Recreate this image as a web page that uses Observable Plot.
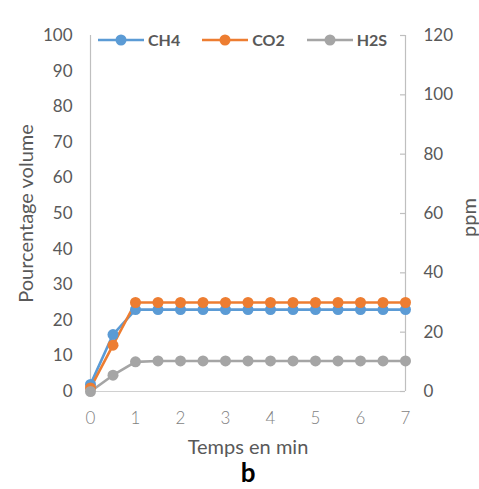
<!DOCTYPE html>
<html><head><meta charset="utf-8">
<script src="https://cdn.jsdelivr.net/npm/d3@7"></script>
<script src="https://cdn.jsdelivr.net/npm/@observablehq/plot@0.6"></script>
<style>
body{margin:0;background:#fff;font-family:Lato,"Open Sans",sans-serif;}
#wrap{position:relative;width:479px;height:489px;}
#legend{position:absolute;left:98px;top:30px;display:flex;gap:22px;font-size:16px;color:#595959;font-weight:bold;}
#legend .it{display:flex;align-items:center;gap:4px;}
</style></head>
<body><div id="wrap"><div id="legend"></div></div>
<script>
const times = [0,0.5,1,1.5,2,2.5,3,3.5,4,4.5,5,5.5,6,6.5,7];
const ch4 = [2,16,23,23,23,23,23,23,23,23,23,23,23,23,23];
const co2 = [1,13,25,25,25,25,25,25,25,25,25,25,25,25,25];
const h2sPpm = [0,5.5,10,10.3,10.3,10.3,10.3,10.3,10.3,10.3,10.3,10.3,10.3,10.3,10.3];
const seriesNames = ["CH4","CO2","H2S"];
const seriesColors = ["#5b9bd5","#ed7d31","#a5a5a5"];
const leftTicks = [0,10,20,30,40,50,60,70,80,90,100];
const rightTicks = [0,20,40,60,80,100,120];
const xTicks = [0,1,2,3,4,5,6,7];
const ratio = 1.2; // ppm per % on secondary axis

const rows = [];
times.forEach((t,i)=>{
  rows.push({t, v: ch4[i], s: "CH4"});
  rows.push({t, v: co2[i], s: "CO2"});
  rows.push({t, v: h2sPpm[i]/ratio, s: "H2S"});
});

const plot = Plot.plot({
  width: 479, height: 489,
  marginLeft: 90, marginRight: 74, marginTop: 35, marginBottom: 98,
  style: {fontFamily: "Lato, 'Open Sans', sans-serif", background: "#fff"},
  x: {type: "linear", domain: [0,7]},
  y: {type: "linear", domain: [0,100]},
  color: {domain: seriesNames, range: seriesColors},
  marks: [
    Plot.ruleX([0], {stroke: "#bfbfbf", strokeWidth: 1.2}),
    Plot.ruleX([7], {stroke: "#bfbfbf", strokeWidth: 1.2}),
    Plot.ruleY([0], {x1: 0, x2: 7, stroke: "#d0d0d0", strokeWidth: 1.2}),
    Plot.axisY(leftTicks, {anchor: "left", tickSize: 0, tickPadding: 18, fontSize: 17, fill: "#595959", label: null}),
    Plot.axisY(rightTicks.map(v=>v/ratio), {anchor: "right", tickSize: 0, tickPadding: 18, fontSize: 17, fill: "#595959", label: null, tickFormat: d => Math.round(d*ratio)}),
    Plot.ruleY(rightTicks.map(v=>v/ratio), {x1: 7, x2: 7, insetLeft: -5, stroke: "#bfbfbf", strokeWidth: 1.2}),
    Plot.axisX(xTicks, {anchor: "bottom", tickSize: 0, tickPadding: 20, fontSize: 17, fill: "#7f7f7f", fontWeight: 300, label: null}),
    Plot.line(rows, {x: "t", y: "v", stroke: "s", z: "s", strokeWidth: 2.6}),
    Plot.dot(rows, {x: "t", y: "v", fill: "s", r: 5.5}),
    Plot.text(["Pourcentage volume"], {frameAnchor: "left", textAnchor: "middle", dx: -64, rotate: -90, fontSize: 20, fill: "#595959"}),
    Plot.text(["ppm"], {frameAnchor: "right", textAnchor: "middle", dx: 64, dy: 4, rotate: -90, fontSize: 20, fill: "#595959"}),
    Plot.text(["Temps en min"], {frameAnchor: "bottom", lineAnchor: "bottom", dy: 62, fontSize: 20, fill: "#595959"}),
    Plot.text(["b"], {frameAnchor: "bottom", lineAnchor: "bottom", dy: 90, fontSize: 26, fill: "#000", fontWeight: "bold"})
  ]
});
const wrap = document.getElementById("wrap");
wrap.appendChild(plot);

const legend = document.getElementById("legend");
seriesNames.forEach((n,i)=>{
  const it = document.createElement("div");
  it.className = "it";
  it.innerHTML = `<svg width="46" height="14"><line x1="0" x2="46" y1="7" y2="7" stroke="${seriesColors[i]}" stroke-width="2.6"/><circle cx="23" cy="7" r="5.5" fill="${seriesColors[i]}"/></svg><span>${n}</span>`;
  legend.appendChild(it);
});
</script></body></html>
